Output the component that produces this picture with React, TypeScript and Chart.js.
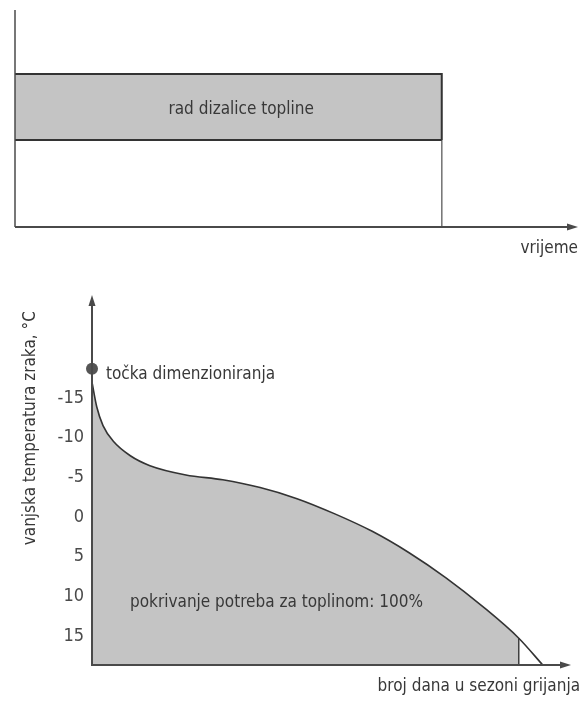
import React, { useEffect, useRef } from "react";
import { Chart, registerables } from "chart.js";

Chart.register(...registerables);

const FONT = "'Liberation Sans Narrow', 'DejaVu Sans Condensed', 'Arial Narrow', 'Roboto Condensed', 'Roboto', sans-serif";

// ---------- top diagram (heat pump operation over time) ----------
const timeRange = [0, 100];
const levelRange = [0, 100];
const heatPumpRun = [0, 75.8]; // start, end of operation on the time axis
const heatPumpBand = [40.1, 70.5]; // lower, upper level of the band
const bandLabel = "rad dizalice topline";
const topXTitle = "vrijeme";

// ---------- bottom diagram (outdoor temperature duration curve) ----------
const days = [0, 1.0, 2.3, 4.5, 8.0, 12.1, 19.6, 27.3, 35.1, 42.8, 50.7, 58.5, 66.2, 73.9, 81.6, 89.1, 94.1];
const temps = [-17.0, -13.87, -11.53, -9.52, -7.73, -6.48, -5.31, -4.7, -3.72, -2.32, -0.4, 1.8, 4.5, 7.67, 11.3, 15.28, 18.66];
const coverageEndIndex = 15; // shaded area ends at days[15]
const designPoint = { x: 0, y: -18.7 };
const tempTicks = [-15, -10, -5, 0, 5, 10, 15];
const tempRange = [-28, 18.66];
const dayRange = [0, 100];
const designLabel = "točka dimenzioniranja";
const coverageLabel = "pokrivanje potreba za toplinom: 100%";
const bottomXTitle = "broj dana u sezoni grijanja";
const bottomYTitle = "vanjska temperatura zraka, °C";

const AXIS_COLOR = "#4a4a4a";
const LINE_COLOR = "#333333";
const FILL_COLOR = "#c4c4c4";
const TEXT_COLOR = "#383838";
const TEXT_SIZE = 17;

function arrowRight(ctx: CanvasRenderingContext2D, x: number, y: number) {
  ctx.beginPath();
  ctx.moveTo(x, y);
  ctx.lineTo(x - 11, y - 3.5);
  ctx.lineTo(x - 11, y + 3.5);
  ctx.closePath();
  ctx.fill();
}
function arrowUp(ctx: CanvasRenderingContext2D, x: number, y: number) {
  ctx.beginPath();
  ctx.moveTo(x, y);
  ctx.lineTo(x - 3.5, y + 11);
  ctx.lineTo(x + 3.5, y + 11);
  ctx.closePath();
  ctx.fill();
}

const topPlugin = {
  id: "topDecor",
  afterDatasetsDraw(chart: any) {
    const { ctx, chartArea: a, scales } = chart;
    ctx.save();
    ctx.strokeStyle = AXIS_COLOR;
    ctx.fillStyle = AXIS_COLOR;
    ctx.lineWidth = 1.5;
    ctx.beginPath();
    ctx.moveTo(a.left, a.top);
    ctx.lineTo(a.left, a.bottom);
    ctx.stroke();
    ctx.lineWidth = 2;
    ctx.beginPath();
    ctx.moveTo(a.left, a.bottom);
    ctx.lineTo(a.right - 6, a.bottom);
    ctx.stroke();
    arrowRight(ctx, a.right, a.bottom);

    ctx.fillStyle = TEXT_COLOR;
    ctx.font = `${TEXT_SIZE}px ${FONT}`;
    ctx.textAlign = "center";
    ctx.textBaseline = "middle";
    const x0 = scales.x.getPixelForValue(heatPumpRun[0]);
    const x1 = scales.x.getPixelForValue(heatPumpRun[1]);
    const cx = x0 + (x1 - x0) * 0.53;
    const cy = (scales.y.getPixelForValue(heatPumpBand[0]) + scales.y.getPixelForValue(heatPumpBand[1])) / 2 + 3;
    ctx.fillText(bandLabel, cx, cy);
    ctx.textAlign = "right";
    ctx.fillText(topXTitle, a.right, a.bottom + 22);
    ctx.restore();
  },
};

const bottomPlugin = {
  id: "bottomDecor",
  afterDatasetsDraw(chart: any) {
    const { ctx, chartArea: a, scales } = chart;
    ctx.save();
    ctx.strokeStyle = AXIS_COLOR;
    ctx.fillStyle = AXIS_COLOR;
    ctx.lineWidth = 2;
    ctx.beginPath();
    ctx.moveTo(a.left, a.top + 6);
    ctx.lineTo(a.left, a.bottom);
    ctx.lineTo(a.right - 6, a.bottom);
    ctx.stroke();
    arrowUp(ctx, a.left, a.top);
    arrowRight(ctx, a.right, a.bottom);

    ctx.fillStyle = TEXT_COLOR;
    ctx.font = `${TEXT_SIZE}px ${FONT}`;
    ctx.textBaseline = "middle";
    ctx.textAlign = "left";
    ctx.fillText(designLabel, scales.x.getPixelForValue(designPoint.x) + 14, scales.y.getPixelForValue(designPoint.y) + 6);
    ctx.fillText(coverageLabel, a.left + 38, scales.y.getPixelForValue(10.8));
    ctx.textAlign = "right";
    ctx.fillText(bottomXTitle, a.right + 9, a.bottom + 22);

    ctx.save();
    ctx.translate(31, scales.y.getPixelForValue(-11.2));
    ctx.rotate(-Math.PI / 2);
    ctx.textAlign = "center";
    ctx.fillText(bottomYTitle, 0, 0);
    ctx.restore();
    ctx.restore();
  },
};

export default function App() {
  const topRef = useRef<HTMLCanvasElement | null>(null);
  const botRef = useRef<HTMLCanvasElement | null>(null);

  useEffect(() => {
    const top = new Chart(topRef.current as HTMLCanvasElement, {
      type: "line",
      data: {
        datasets: [
          {
            data: [
              { x: heatPumpRun[0], y: heatPumpBand[1] },
              { x: heatPumpRun[1], y: heatPumpBand[1] },
              { x: heatPumpRun[1], y: heatPumpBand[0] },
            ],
            borderColor: LINE_COLOR,
            borderWidth: 2,
            pointRadius: 0,
            fill: false,
          },
          {
            data: [
              { x: heatPumpRun[0], y: heatPumpBand[0] },
              { x: heatPumpRun[1], y: heatPumpBand[0] },
            ],
            borderColor: LINE_COLOR,
            borderWidth: 2,
            pointRadius: 0,
            fill: false,
          },
          {
            data: [
              { x: heatPumpRun[0], y: heatPumpBand[1] },
              { x: heatPumpRun[1], y: heatPumpBand[1] },
            ],
            borderWidth: 0,
            borderColor: "rgba(0,0,0,0)",
            backgroundColor: FILL_COLOR,
            pointRadius: 0,
            fill: { value: heatPumpBand[0] },
          },
          {
            data: [
              { x: heatPumpRun[1], y: heatPumpBand[0] },
              { x: heatPumpRun[1], y: levelRange[0] },
            ],
            borderColor: "#777777",
            borderWidth: 1,
            pointRadius: 0,
            fill: false,
          },
        ],
      },
      options: {
        animation: false,
        responsive: false,
        events: [],
        layout: { padding: { left: 15, right: 6, top: 10, bottom: 43 } },
        plugins: { legend: { display: false }, tooltip: { enabled: false } },
        scales: {
          x: { type: "linear", min: timeRange[0], max: timeRange[1], display: false },
          y: { type: "linear", min: levelRange[0], max: levelRange[1], display: false },
        },
      },
      plugins: [topPlugin],
    } as any);

    const curve = days.map((d, i) => ({ x: d, y: temps[i] }));
    const covered = curve.slice(0, coverageEndIndex + 1);
    const cut = curve[coverageEndIndex];

    const bottom = new Chart(botRef.current as HTMLCanvasElement, {
      type: "line",
      data: {
        datasets: [
          {
            type: "scatter",
            data: [designPoint],
            pointRadius: 6,
            pointBackgroundColor: "#555555",
            pointBorderWidth: 0,
            clip: false,
          },
          {
            data: curve,
            borderColor: LINE_COLOR,
            borderWidth: 1.6,
            pointRadius: 0,
            cubicInterpolationMode: "monotone",
            fill: false,
          },
          {
            data: [
              { x: cut.x, y: cut.y },
              { x: cut.x, y: tempRange[1] },
            ],
            borderColor: LINE_COLOR,
            borderWidth: 1.4,
            pointRadius: 0,
            fill: false,
          },
          {
            data: covered,
            borderWidth: 0,
            borderColor: "rgba(0,0,0,0)",
            backgroundColor: FILL_COLOR,
            pointRadius: 0,
            cubicInterpolationMode: "monotone",
            fill: { value: tempRange[1] },
          },
        ],
      },
      options: {
        animation: false,
        responsive: false,
        events: [],
        layout: { padding: { left: 0, right: 13, top: 25, bottom: 39 } },
        plugins: { legend: { display: false }, tooltip: { enabled: false } },
        scales: {
          x: { type: "linear", min: dayRange[0], max: dayRange[1], display: false },
          y: {
            type: "linear",
            reverse: true,
            min: tempRange[0],
            max: tempRange[1],
            afterBuildTicks: (scale: any) => {
              scale.ticks = tempTicks.map((v) => ({ value: v }));
            },
            afterFit: (scale: any) => {
              scale.width = 92;
            },
            grid: { display: false, drawTicks: false },
            border: { display: false },
            ticks: {
              padding: 8,
              color: "#4a4a4a",
              font: { family: FONT, size: 18 },
            },
          },
        },
      },
      plugins: [bottomPlugin],
    } as any);

    return () => {
      top.destroy();
      bottom.destroy();
    };
  }, []);

  return (
    <div style={{ position: "absolute", left: 0, top: 0, width: 584, height: 704, background: "#ffffff" }}>
      <canvas ref={topRef} width={584} height={270} style={{ display: "block" }} />
      <canvas ref={botRef} width={584} height={434} style={{ display: "block" }} />
    </div>
  );
}
